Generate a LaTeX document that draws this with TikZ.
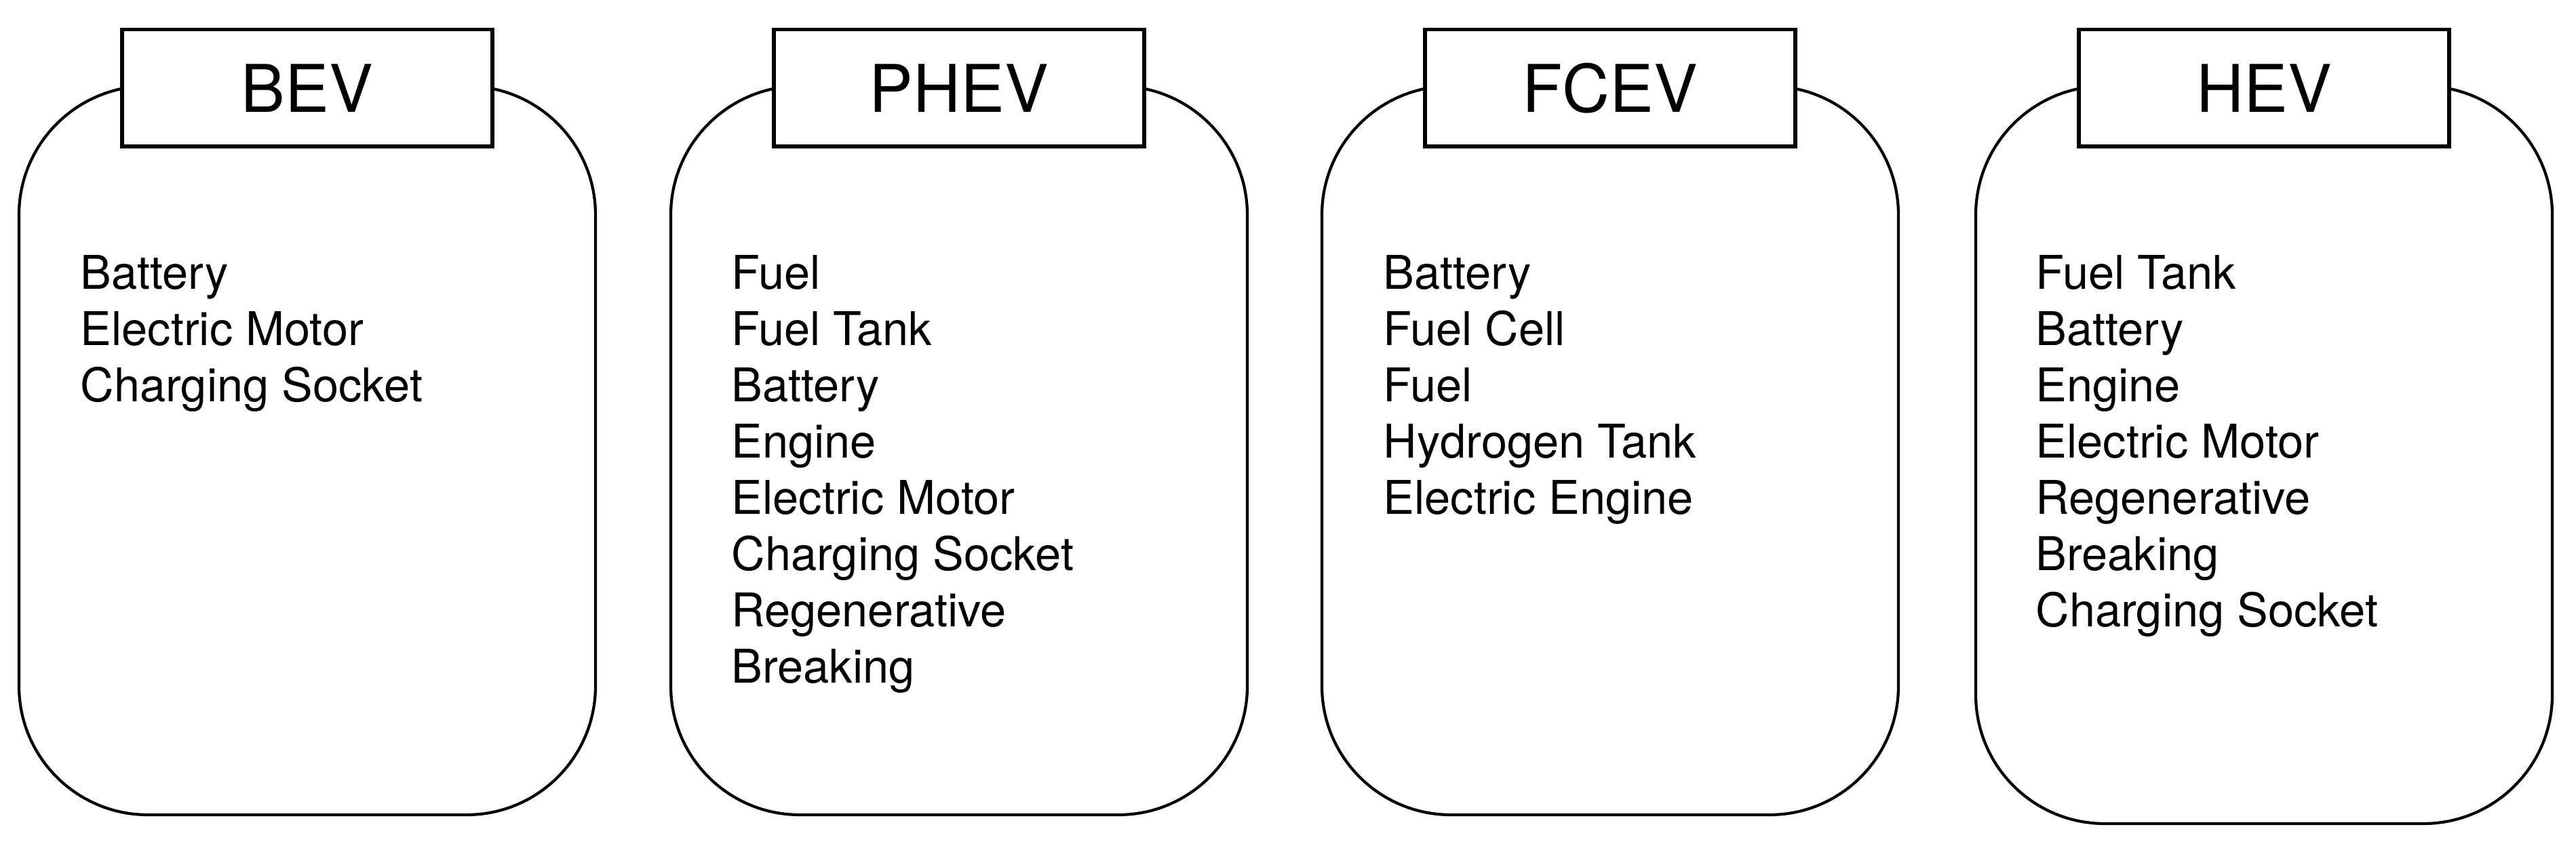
\documentclass[tikz,border=0pt]{standalone}
\usepackage{fontspec}
\setmainfont{TeX Gyre Heros}
\usepackage{tikz}
\usetikzlibrary{backgrounds}
\pgfdeclarelayer{edgelayer}
\pgfdeclarelayer{nodelayer}
\pgfsetlayers{edgelayer,nodelayer,main}
\tikzstyle{carbox}=[rectangle,rounded corners=1.9cm,draw=black,line width=1.2pt,minimum width=8.5cm,inner sep=0pt]
\tikzstyle{typebox}=[rectangle,draw=black,fill=white,line width=1.5pt,minimum width=5.46cm,minimum height=1.72cm,inner sep=0pt,yshift=-0.05cm,font=\fontsize{27.6}{33}\selectfont]
\tikzstyle{component}=[anchor=base west,inner sep=0pt,font=\fontsize{19.5}{23}\selectfont]

\begin{document}
\begin{tikzpicture}
	\useasboundingbox (0,0) rectangle (37.98,12.48);
	\begin{pgfonlayer}{edgelayer}
		\node [style=carbox, minimum height=10.75cm] (bev) at (4.53, 5.835) {};
		\node [style=carbox, minimum height=10.75cm] (phev) at (14.14, 5.835) {};
		\node [style=carbox, minimum height=10.75cm] (fcev) at (23.74, 5.835) {};
		\node [style=carbox, minimum height=10.88cm] (hev) at (33.38, 5.77) {};
	\end{pgfonlayer}
	\begin{pgfonlayer}{nodelayer}
		\node [style=typebox] (bevtitle) at (bev.north) {BEV};
		\node [style=typebox] (phevtitle) at (phev.north) {PHEV};
		\node [style=typebox] (fcevtitle) at (fcev.north) {FCEV};
		\node [style=typebox] (hevtitle) at (hev.north) {HEV};

		\node [style=component] (bev1) at (1.18, 8.21) {Battery};
		\node [style=component] (bev2) at (1.18, 7.38) {Electric Motor};
		\node [style=component] (bev3) at (1.18, 6.55) {Charging Socket};

		\node [style=component] (phev1) at (10.78, 8.21) {Fuel};
		\node [style=component] (phev2) at (10.78, 7.38) {Fuel Tank};
		\node [style=component] (phev3) at (10.78, 6.55) {Battery};
		\node [style=component] (phev4) at (10.78, 5.72) {Engine};
		\node [style=component] (phev5) at (10.78, 4.89) {Electric Motor};
		\node [style=component] (phev6) at (10.78, 4.06) {Charging Socket};
		\node [style=component] (phev7) at (10.78, 3.23) {Regenerative};
		\node [style=component] (phev8) at (10.78, 2.40) {Breaking};

		\node [style=component] (fcev1) at (20.39, 8.21) {Battery};
		\node [style=component] (fcev2) at (20.39, 7.38) {Fuel Cell};
		\node [style=component] (fcev3) at (20.39, 6.55) {Fuel};
		\node [style=component] (fcev4) at (20.39, 5.72) {Hydrogen Tank};
		\node [style=component] (fcev5) at (20.39, 4.89) {Electric Engine};

		\node [style=component] (hev1) at (30.01, 8.21) {Fuel Tank};
		\node [style=component] (hev2) at (30.01, 7.38) {Battery};
		\node [style=component] (hev3) at (30.01, 6.55) {Engine};
		\node [style=component] (hev4) at (30.01, 5.72) {Electric Motor};
		\node [style=component] (hev5) at (30.01, 4.89) {Regenerative};
		\node [style=component] (hev6) at (30.01, 4.06) {Breaking};
		\node [style=component] (hev7) at (30.01, 3.23) {Charging Socket};
	\end{pgfonlayer}
\end{tikzpicture}
\end{document}
